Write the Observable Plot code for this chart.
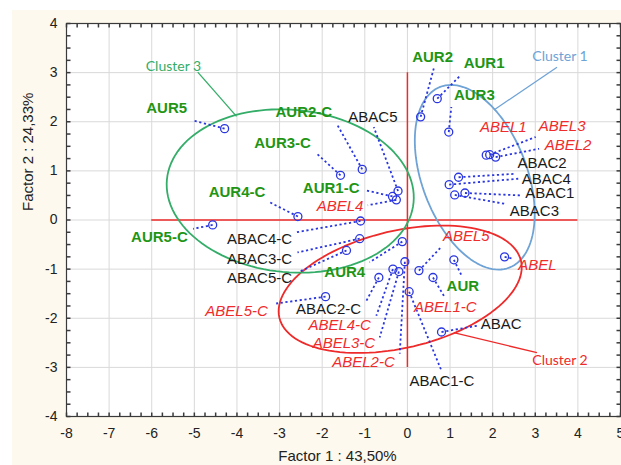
<!DOCTYPE html>
<html>
<head>
<meta charset="utf-8">
<script src="https://cdn.jsdelivr.net/npm/d3@7"></script>
<script src="https://cdn.jsdelivr.net/npm/@observablehq/plot@0.6"></script>
<style>
  body { margin: 0; background: #ffffff; }
  #wrap { position: relative; width: 621px; height: 465px; overflow: hidden; }
  #paper { position: absolute; left: 12px; top: 10px; right: 0; bottom: 0; background: #fdf9ee; }
  #chart { position: absolute; left: 0; top: 0; }
</style>
</head>
<body>
<div id="wrap"><div id="paper"></div><div id="chart"></div></div>
<script>
// Sample scores on the first two factors
const names = ["AUR5","AUR2","AUR1","AUR3","ABEL1","ABEL3","ABEL2","ABAC2","ABAC4","ABAC1","ABAC3","ABEL",
  "ABAC5","AUR1-C","ABEL4","AUR2-C","AUR3-C","AUR4-C","AUR5-C","ABAC4-C","ABAC3-C","ABAC5-C","AUR4",
  "ABEL5-C","ABAC2-C","ABEL4-C","ABEL3-C","ABEL2-C","ABAC1-C","ABEL1-C","ABEL5","AUR","ABAC"];
const factor1 = [-4.29,0.31,0.70,0.97,1.85,1.93,2.07,1.20,0.98,1.35,1.11,2.28,
  -0.22,-0.35,-0.26,-1.06,-1.57,-2.57,-4.57,-1.10,-1.12,-1.43,-0.12,
  -1.92,-0.67,-0.34,-0.20,-0.06,0.04,0.60,0.27,1.09,0.80];
const factor2 = [1.86,2.10,2.47,1.79,1.32,1.33,1.28,0.87,0.72,0.55,0.51,-0.75,
  0.59,0.48,0.41,1.03,0.91,0.07,-0.10,-0.02,-0.38,-0.62,-0.44,
  -1.56,-1.17,-1.00,-1.05,-0.85,-1.46,-1.17,-1.03,-0.81,-2.28];

// Where each sample name sits, and where its dotted leader ends (factor units)
const labelX = [-5.65,0.59,1.80,1.57,2.25,3.63,3.77,3.16,3.26,3.34,2.98,3.05,
  -0.81,-1.79,-1.58,-2.43,-2.93,-4.00,-5.82,-3.47,-3.47,-3.47,-1.47,
  -4.01,-1.85,-1.59,-1.49,-1.03,0.81,0.89,1.38,1.30,2.20];
const labelY = [2.28,3.32,3.19,2.54,1.89,1.91,1.52,1.15,0.83,0.54,0.18,-0.91,
  2.09,0.64,0.28,2.19,1.56,0.56,-0.34,-0.40,-0.79,-1.19,-1.07,
  -1.85,-1.81,-2.15,-2.51,-2.90,-3.28,-1.78,-0.32,-1.34,-2.13];
const leaderX = [-5.05,0.62,1.23,1.03,1.85,3.01,3.09,2.52,2.60,2.68,2.28,2.50,
  -0.79,-0.96,-0.93,-1.64,-2.14,-3.23,-5.03,-2.61,-2.58,-2.53,-0.89,
  -3.08,-0.96,-0.73,-0.65,-0.18,0.80,0.88,0.78,1.27,1.65];
const leaderY = [2.03,3.09,2.93,2.30,1.32,1.69,1.45,0.94,0.84,0.50,0.33,-0.79,
  1.89,0.60,0.30,1.93,1.36,0.36,-0.18,-0.25,-0.66,-1.05,-0.86,
  -1.70,-1.64,-1.95,-2.39,-2.72,-3.07,-1.58,-0.56,-1.13,-2.15];

// Cluster ellipses: centre plus two conjugate semi-axes (factor units)
const clusterNames = ["Cluster 1","Cluster 2","Cluster 3"];
const clusterCx = [1.58,-0.17,-2.75];
const clusterCy = [0.87,-1.41,0.59];
const clusterUx = [0.81,2.835,2.894];
const clusterUy = [-1.84,0.578,-0.233];
const clusterVx = [1.15,0.312,-0.176];
const clusterVy = [0.384,-1.161,-1.647];
const clusterLabelX = [3.58,3.58,-5.49];
const clusterLabelY = [3.32,-2.87,3.13];
const clusterLeaderX1 = [3.51,3.04,-4.92];
const clusterLeaderY1 = [3.11,-2.70,3.01];
const clusterLeaderX2 = [2.03,1.11,-4.01];
const clusterLeaderY2 = [2.24,-2.30,2.11];

// Axes
const xTicks = [-8,-7,-6,-5,-4,-3,-2,-1,0,1,2,3,4,5];
const yTicks = [-4,-3,-2,-1,0,1,2,3,4];
const minorX = d3.range(-8, 5.001, 0.25);
const minorY = d3.range(-4, 4.001, 0.25);
const crossX = [-6, 4];
const crossY = [-3, 3];
const xTitle = "Factor 1 : 43,50%";
const yTitle = "Factor 2 : 24,33%";

const clusterColor = {"Cluster 1": "#6fa3d6", "Cluster 2": "#ee2a2a", "Cluster 3": "#34ad68"};
const groupOf = n => n.startsWith("AUR") ? "AUR" : n.startsWith("ABEL") ? "ABEL" : "ABAC";

const samples = names.map((n, i) => ({
  name: n, group: groupOf(n), x: factor1[i], y: factor2[i],
  lx: labelX[i], ly: labelY[i], ex: leaderX[i], ey: leaderY[i]
}));

const clusters = clusterNames.map((c, i) => ({
  name: c, cx: clusterCx[i], cy: clusterCy[i], ux: clusterUx[i], uy: clusterUy[i],
  vx: clusterVx[i], vy: clusterVy[i], lx: clusterLabelX[i], ly: clusterLabelY[i],
  x1: clusterLeaderX1[i], y1: clusterLeaderY1[i], x2: clusterLeaderX2[i], y2: clusterLeaderY2[i]
}));

// Outline of each ellipse
const outline = clusters.flatMap(c => d3.range(0, 121).map(k => {
  const t = (k / 120) * 2 * Math.PI;
  return {name: c.name, x: c.cx + c.ux * Math.cos(t) + c.vx * Math.sin(t),
          y: c.cy + c.uy * Math.cos(t) + c.vy * Math.sin(t)};
}));

// Short inward frame ticks
const tickSym = (dx, dy) => ({draw(ctx) { ctx.moveTo(0, 0); ctx.lineTo(dx, dy); }});

const font = "'Liberation Sans', Arial, sans-serif";
const blue = "#2a36e0";

const chart = Plot.plot({
  width: 621,
  height: 465,
  marginLeft: 66,
  marginRight: 1,
  marginTop: 23,
  marginBottom: 49,
  style: {background: "transparent", fontFamily: font},
  x: {domain: [-8, 5], axis: null},
  y: {domain: [-4, 4], axis: null},
  marks: [
    Plot.frame({fill: "#ffffff"}),
    Plot.ruleX(xTicks, {stroke: "#d9d9d9", strokeWidth: 1}),
    Plot.ruleY(yTicks, {stroke: "#d9d9d9", strokeWidth: 1}),
    Plot.ruleY([0], {x1: crossX[0], x2: crossX[1], stroke: "#ee2a2a", strokeWidth: 1.5}),
    Plot.ruleX([0], {y1: crossY[0], y2: crossY[1], stroke: "#ee2a2a", strokeWidth: 1.5}),
    Plot.line(outline, {x: "x", y: "y", z: "name", stroke: d => clusterColor[d.name], strokeWidth: 1.8}),
    Plot.link(clusters, {x1: "x1", y1: "y1", x2: "x2", y2: "y2", stroke: d => clusterColor[d.name], strokeWidth: 1.3}),
    Plot.text(clusters, {x: "lx", y: "ly", text: "name", fill: d => clusterColor[d.name],
      fontSize: 14, fontFamily: "Lato, 'Open Sans', sans-serif", lineAnchor: "middle"}),
    Plot.link(samples, {x1: "x", y1: "y", x2: "ex", y2: "ey", stroke: blue, strokeWidth: 1.8,
      strokeDasharray: "2.2,2.6"}),
    Plot.dot(samples, {x: "x", y: "y", r: 4, stroke: blue, strokeWidth: 1.3, fill: "none"}),
    Plot.text(samples.filter(d => d.group === "AUR"), {x: "lx", y: "ly", text: "name", fill: "#1f9516",
      fontSize: 15, fontWeight: "bold", lineAnchor: "middle"}),
    Plot.text(samples.filter(d => d.group === "ABEL"), {x: "lx", y: "ly", text: "name", fill: "#f02b2b",
      fontSize: 15, fontStyle: "italic", lineAnchor: "middle"}),
    Plot.text(samples.filter(d => d.group === "ABAC"), {x: "lx", y: "ly", text: "name", fill: "#1a1a1a",
      fontSize: 15, lineAnchor: "middle"}),
    Plot.frame({stroke: "#3a3a3a", strokeWidth: 1.2}),
    Plot.dot(minorX, {x: d => d, y: () => -4, symbol: tickSym(0, -4), stroke: "#3a3a3a", fill: "none"}),
    Plot.dot(minorX, {x: d => d, y: () => 4, symbol: tickSym(0, 4), stroke: "#3a3a3a", fill: "none"}),
    Plot.dot(minorY, {x: () => -8, y: d => d, symbol: tickSym(4, 0), stroke: "#3a3a3a", fill: "none"}),
    Plot.dot(minorY, {x: () => 5, y: d => d, symbol: tickSym(-4, 0), stroke: "#3a3a3a", fill: "none"}),
    Plot.text(xTicks, {x: d => d, frameAnchor: "bottom", dy: 17, text: d => String(d),
      fontSize: 14, fill: "#222", lineAnchor: "middle"}),
    Plot.text(yTicks, {y: d => d, frameAnchor: "left", dx: -9, text: d => String(d),
      fontSize: 14, fill: "#222", textAnchor: "end", lineAnchor: "middle"}),
    Plot.text([xTitle], {frameAnchor: "bottom", dx: -6, dy: 40, fontSize: 15, fill: "#222", lineAnchor: "middle"}),
    Plot.text([yTitle], {frameAnchor: "left", dx: -38, dy: -9, rotate: -90, fontSize: 15, fill: "#222", lineAnchor: "middle"})
  ]
});

document.getElementById("chart").appendChild(chart);
</script>
</body>
</html>
